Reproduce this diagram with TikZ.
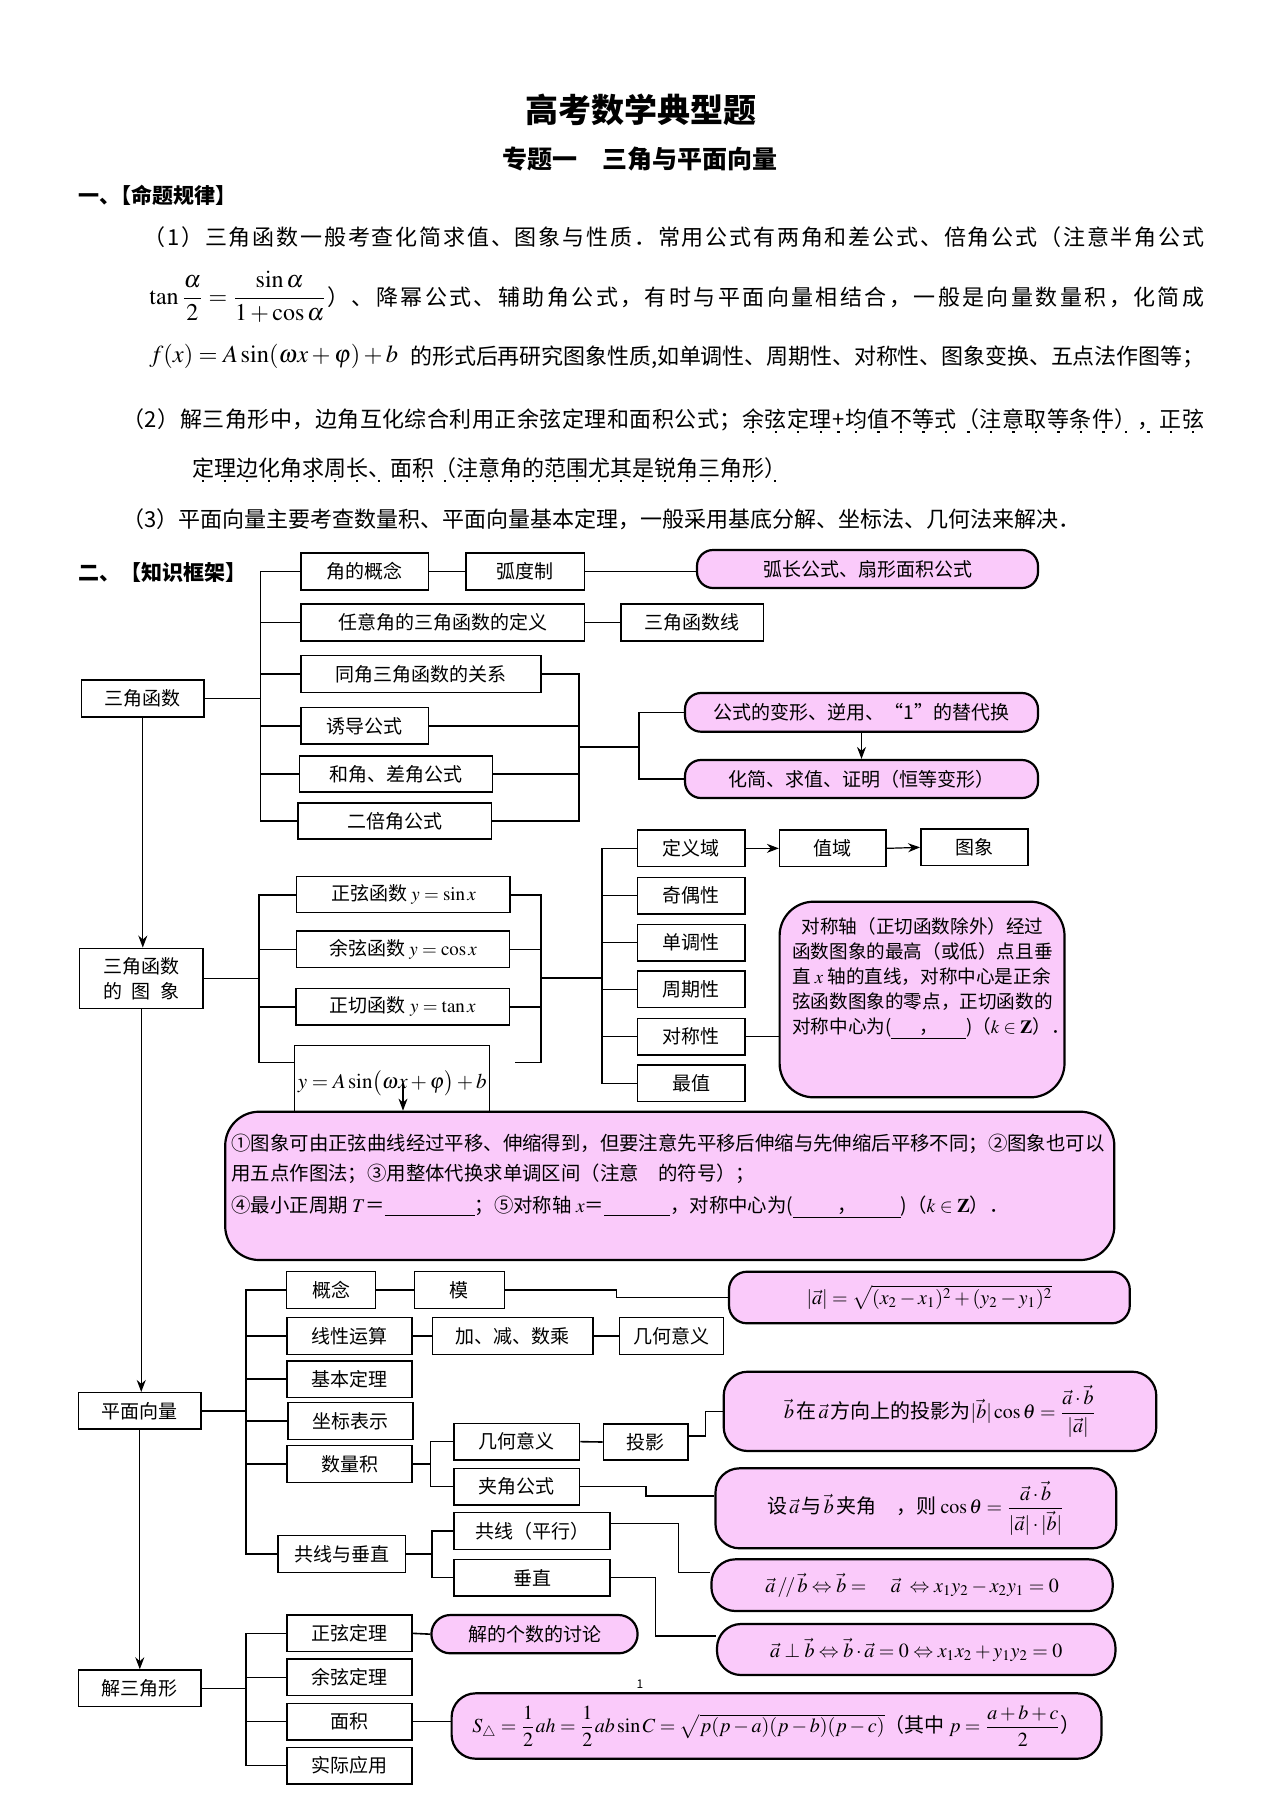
\documentclass[tikz,border=0pt]{standalone}
\usepackage{amsmath}
\usepackage{mathptmx}
\usepackage[no-math]{fontspec}
\setmainfont{Noto Sans CJK SC}
\usetikzlibrary{fit,arrows.meta}
\definecolor{pinkf}{RGB}{250,202,250}
\newcommand\zd[1]{\ooalign{#1\cr\hidewidth\raisebox{-0.25em}{\rule{1.1pt}{1.1pt}}\hidewidth\cr}}
\ExplSyntaxOn
\NewDocumentCommand\jline{mm}{\makebox[#1][s]{\tl_map_inline:nn{#2}{##1\hskip 0pt plus 1fil minus 1fil\scan_stop:}\unskip}}
\NewDocumentCommand\jlinez{mmm}{\makebox[#1][s]{\tl_map_inline:nn{#2}{##1\hskip 0pt plus 1fil minus 1fil\scan_stop:}\tl_map_inline:nn{#3}{\zd{##1}\hskip 0pt plus 1fil minus 1fil\scan_stop:}\unskip}}
\NewDocumentCommand\zdall{m}{\tl_map_inline:nn{#1}{\zd{##1}}}
\ExplSyntaxOff
\newcommand\bx[5][box]{\node[#1, fit={(#3) (#4)}] (#2) {};\node[#1, draw=none, fill=none] (#2t) at (#2.center) {#5};}
\tikzset{
 box/.style={draw, line width=0.75pt, inner sep=0pt, font=\fontsize{9.5pt}{12.5pt}\selectfont, align=center},
 pbox/.style={box, fill=pinkf, line width=1.1pt, rounded corners=8pt},
 pfbox/.style={pbox, rounded corners=12pt, font=\fontsize{10pt}{12pt}\selectfont},
 ln/.style={line width=0.8pt},
 arr/.style={line width=0.6pt, -{Stealth[length=6pt,width=4.5pt]}},
 ptxt/.style={inner sep=0pt, font=\fontsize{11pt}{13pt}\selectfont, anchor=base west},
}
\begin{document}
\begin{tikzpicture}[x=0.5pt,y=-0.5pt]
\useasboundingbox[fill=white] (0,0) rectangle (1280,1810);
% ---------- header ----------
\node[font=\fontsize{16.5pt}{18pt}\selectfont\bfseries] (title) at (640.8,110) {高考数学典型题};
\node[font=\fontsize{12.5pt}{14pt}\selectfont\bfseries] (sub) at (640.4,159) {专题一　三角与平面向量};
\node[ptxt, font=\fontsize{10.5pt}{12pt}\selectfont\bfseries] (h1) at (77.6,203) {一、\hspace{-0.45em}【命题规律】};
\node[ptxt] (l1) at (143,245) {\jline{530.5pt}{（1）三角函数一般考查化简求值、图象与性质．常用公式有两角和差公式、倍角公式（注意半角公式}};
\node[inner sep=0pt, anchor=west, font=\fontsize{12pt}{14pt}\selectfont] (l2a) at (149,297) {$\tan\dfrac{\alpha}{2}=\dfrac{\sin\alpha}{1+\cos\alpha}$};
\node[ptxt] (l2b) at (327,305.4) {\jline{438.5pt}{）、降幂公式、辅助角公式，有时与平面向量相结合，一般是向量数量积，化简成}};
\node[inner sep=0pt, anchor=west, font=\fontsize{12.2pt}{14pt}\selectfont] (l3a) at (149,356) {$f(x)=A\sin(\omega x+\varphi)+b$};
\node[ptxt] (l3b) at (410,364.4) {\jline{397pt}{的形式后再研究图象性质,如单调性、周期性、对称性、图象变换、五点法作图等；}};
\node[ptxt] (l4) at (122,427.4) {\jlinez{541pt}{（2）解三角形中，边角互化综合利用正余弦定理和面积公式；}{余弦定理+均值不等式（注意取等条件），正弦}};
\node[ptxt] (l5) at (191.8,476.4) {\zdall{定理边化角求周长、面积（注意角的范围尤其是锐角三角形）}};
\node[ptxt] (l6) at (122,527) {（3）平面向量主要考查数量积、平面向量基本定理，一般采用基底分解、坐标法、几何法来解决．};
\node[ptxt, font=\fontsize{10.5pt}{12pt}\selectfont\bfseries] (h2) at (77.6,580) {二、【知识框架】};
% ---------- group 1 ----------
\bx{sjhs}{81.6,680}{204,717}{三角函数}
\bx{jdgn}{301,553}{428.6,590}{角的概念}
\bx{hdz}{466,553}{584.5,590}{弧度制}
\bx[pbox]{hc}{697,550}{1038,588}{弧长公式、扇形面积公式}
\bx{ryj}{301,604}{584.5,641}{任意角的三角函数的定义}
\bx{sjhsx}{621,604}{763.7,641}{三角函数线}
\bx{tj}{301,655.7}{541,692.3}{同角三角函数的关系}
\bx{yd}{301,707.7}{428.6,744}{诱导公式}
\bx{hj}{299.6,756}{492.7,792}{和角、差角公式}
\bx{ebj}{298,803}{491.4,839}{二倍角公式}
\bx[pbox]{gs}{685,693}{1038,731.7}{公式的变形、逆用、“1”的替代换}
\bx[pbox]{hjq}{685,760}{1038,798}{化简、求值、证明（恒等变形）}
\coordinate (s1) at (260.4,0);
\coordinate (s2) at (578.8,0);
\coordinate (s3) at (638.8,746.7);
\draw[ln] (jdgn.west) -- (jdgn.west -| s1) -- (ebj.west -| s1) -- (ebj.west);
\foreach \n in {ryj,tj,yd,hj} \draw[ln] (\n.west -| s1) -- (\n.west);
\draw[ln] (sjhs.east) -- (sjhs.east -| s1);
\draw[ln] (jdgn.east) -- (hdz.west);
\draw[ln] (hdz.east) -- (hdz.east -| hc.west);
\draw[ln] (ryj.east) -- (sjhsx.west);
\draw[ln] (tj.east) -- (tj.east -| s2) -- (ebj.east -| s2) -- (ebj.east);
\foreach \n in {yd,hj} \draw[ln] (\n.east) -- (\n.east -| s2);
\draw[ln] (s2 |- s3) -- (s3);
\draw[ln] (gs.west) -- (gs.west -| s3) -- (hjq.west -| s3) -- (hjq.west);
\draw[arr] (gs.south) -- (hjq.north);
% ---------- group 2 ----------
\bx{tu}{79.6,948.3}{202.9,1008.3}{三角函数\\\makebox[4em][s]{的\hfil 图\hfil 象}}
\draw[arr] (sjhs.south) -- (sjhs.south |- tu.north);
\bx{zx}{296.7,876.7}{510.2,912.7}{正弦函数 $y=\sin x$}
\bx{yx}{296.7,931}{509.4,967.7}{余弦函数 $y=\cos x$}
\bx{zq}{296,988.7}{509.4,1025}{正切函数 $y=\tan x$}
\bx[box, font=\fontsize{10.5pt}{12pt}\selectfont]{asinb}{294.7,1045.7}{489.7,1120.3}{$y=A\sin\bigl(\omega x+\varphi\bigr)+b$}
\bx{dyy}{637.6,830}{744.9,866.7}{定义域}
\bx{zy}{779.6,830}{886,866.7}{值域}
\bx{tx}{920.8,829}{1027.8,865.7}{图象}
\bx{jo}{637.6,877.3}{744.9,914}{奇偶性}
\bx{dd}{637.6,924.3}{744.9,961}{单调性}
\bx{zqx}{637.6,971}{744.9,1007.7}{周期性}
\bx{dc}{637.6,1018.3}{744.9,1055}{对称性}
\bx{zz}{637.6,1065}{744.9,1101.7}{最值}
\bx[pbox, rounded corners=17pt]{callout}{779.6,901.7}{1064.5,1097.3}{}
\node[anchor=north west, inner sep=0pt, align=left, font=\fontsize{9.3pt}{12.5pt}\selectfont] (ct) at (791.8,917) {\hspace{4.7pt}对称轴（正切函数除外）经过\\函数图象的最高（或低）点且垂\\直 $x$ 轴的直线，对称中心是正余\\弦函数图象的零点，正切函数的\\对称中心为(\underline{\hspace{14pt}，\hspace{14pt}})（$k\in\mathbf{Z}$）．};
\coordinate (t1) at (259,1062.3);
\coordinate (t2) at (540.8,1062.3);
\coordinate (t2s) at (515,1062.3);
\coordinate (t3) at (602,977.7);
\draw[ln] (zx.west) -- (zx.west -| t1) -- (t1) -- (t1 -| asinb.west);
\foreach \n in {yx,zq} \draw[ln] (\n.west -| t1) -- (\n.west);
\draw[ln] (tu.east) -- (tu.east -| t1);
\draw[ln] (zx.east) -- (zx.east -| t2) -- (t2) -- (t2s);
\foreach \n in {yx,zq} \draw[ln] (\n.east) -- (\n.east -| t2);
\draw[ln] (t2 |- t3) -- (t3);
\draw[ln] (dyy.west) -- (dyy.west -| t3) -- (zz.west -| t3) -- (zz.west);
\foreach \n in {jo,dd,zqx,dc} \draw[ln] (\n.west -| t3) -- (\n.west);
\draw[arr] (dyy.east) -- (zy.west);
\draw[arr] (zy.east) -- (tx.west);
\draw[ln] (dc.east) -- (dc.east -| callout.west);
\bx[pbox, rounded corners=17pt]{bp}{225.2,1111.7}{1114.3,1260}{}
\coordinate (a0) at (403,1083);
\draw[arr] (a0) -- (a0 |- bp.north);
\begin{scope}[every node/.style={inner sep=0pt, anchor=base west, font=\fontsize{9.7pt}{12pt}\selectfont}]
\node (bt1) at (231,1150.8) {①图象可由正弦曲线经过平移、伸缩得到，但要注意先平移后伸缩与先伸缩后平移不同；②图象也可以};
\node (bt2) at (231,1180.8) {用五点作图法；③用整体代换求单调区间（注意\hspace{1em}的符号）；};
\node (bt3) at (231,1212.5) {④最小正周期 $T$＝\underline{\hspace{45pt}}；⑤对称轴 $x$＝\underline{\hspace{33pt}}，对称中心为(\underline{\hspace{22pt}，\hspace{22pt}})（$k\in\mathbf{Z}$）．};
\end{scope}
% ---------- group 3 ----------
\bx{pm}{78.4,1392.7}{201.2,1429}{平面向量}
\draw[arr] (tu.south) -- (tu.south |- pm.north);
\bx{gn}{286.5,1271.7}{375.5,1308.3}{概念}
\bx{mo}{414.3,1271.7}{504.5,1308.3}{模}
\bx[pfbox, rounded corners=9pt]{amod}{729,1271.7}{1129.8,1323.3}{$|\vec{a}|=\sqrt{(x_2-x_1)^2+(y_2-y_1)^2}$}
\bx{xx}{287,1317.7}{412.2,1354.3}{线性运算}
\bx{jj}{432.7,1317.7}{593,1354.3}{加、减、数乘}
\bx{jha}{619.6,1317.7}{723.7,1354.3}{几何意义}
\bx{jb}{287,1361}{412.2,1397.3}{基本定理}
\bx{zb}{287.8,1402.7}{413,1439.3}{坐标表示}
\bx{slj}{287,1445.7}{412.2,1482.3}{数量积}
\bx{jhb}{453.9,1423.3}{579.6,1460}{几何意义}
\bx{jjgs}{453.9,1468.3}{579.6,1505}{夹角公式}
\bx{ty}{603.3,1424}{688.2,1460}{投影}
\bx[pfbox]{typ}{723.7,1371.7}{1156.3,1451}{$\vec{b}\,$在$\,\vec{a}\,$方向上的投影为$|\vec{b}|\cos\theta=\dfrac{\vec{a}\cdot\vec{b}}{|\vec{a}|}$}
\bx[pfbox]{jjp}{715.5,1468.3}{1116.3,1548.3}{设$\,\vec{a}\,$与$\,\vec{b}\,$夹角\quad ，则 $\cos\theta=\dfrac{\vec{a}\cdot\vec{b}}{|\vec{a}|\cdot|\vec{b}|}$}
\bx{gxcz}{278,1535.7}{405.3,1572.3}{共线与垂直}
\bx{gx}{453.9,1512.3}{610.2,1549.3}{共线（平行）}
\bx{cz}{453.9,1559.3}{610.2,1596}{垂直}
\bx[pfbox]{pxp}{711.4,1559.3}{1112.7,1611}{$\vec{a}\,/\!/\,\vec{b}\Leftrightarrow\vec{b}=\quad\vec{a}\;\Leftrightarrow x_1y_2-x_2y_1=0$}
\bx[pfbox]{czp}{717,1624}{1115.5,1675}{$\vec{a}\perp\vec{b}\Leftrightarrow\vec{b}\cdot\vec{a}=0\Leftrightarrow x_1x_2+y_1y_2=0$}
\coordinate (u1) at (246,0);
\coordinate (u2) at (430.6,0);
\coordinate (u3) at (431.8,0);
\coordinate (m1) at (616.3,0);
\coordinate (m2) at (705.3,1436);
\coordinate (m3) at (646,1495.7);
\coordinate (m4) at (678.3,1523.3);
\coordinate (m4b) at (678.3,1572.3);
\coordinate (m5) at (655.3,1636);
\draw[ln] (gn.west) -- (gn.west -| u1) -- (gxcz.west -| u1) -- (gxcz.west);
\foreach \n in {xx,jb,zb,slj} \draw[ln] (\n.west -| u1) -- (\n.west);
\draw[ln] (pm.east) -- (pm.east -| u1);
\draw[ln] (gn.east) -- (mo.west);
\draw[ln] (mo.east) -- (mo.east -| m1) -- (m1 |- amod.west) -- (amod.west);
\draw[ln] (xx.east) -- (jj.west);
\draw[ln] (jj.east) -- (jha.west);
\draw[ln] (slj.east) -- (slj.east -| u2);
\draw[ln] (jhb.west) -- (jhb.west -| u2) -- (jjgs.west -| u2) -- (jjgs.west);
\draw[ln] (jhb.east) -- (ty.west);
\draw[ln] (ty.east |- m2) -- (m2) -- (m2 |- typ.west) -- (typ.west);
\draw[ln] (jjgs.east) -- (jjgs.east -| m3) -- (m3) -- (m3 -| jjp.west);
\draw[ln] (gxcz.east) -- (gxcz.east -| u3);
\draw[ln] (gx.west) -- (gx.west -| u3) -- (cz.west -| u3) -- (cz.west);
\draw[ln] (gx.east |- m4) -- (m4) -- (m4b) -- (m4b -| pxp.west);
\draw[ln] (cz.east) -- (cz.east -| m5) -- (m5) -- (m5 -| czp.west);
% ---------- group 4 ----------
\bx{sjx}{78.4,1670}{201.2,1706.7}{解三角形}
\draw[arr] (pm.south) -- (pm.south |- sjx.north);
\bx{zxdl}{287,1615}{412.2,1651.7}{正弦定理}
\bx{yxdl}{287,1659}{412.2,1695.7}{余弦定理}
\bx{mj}{287,1703.3}{412.2,1740}{面积}
\bx{sjyy}{287,1747.3}{412.2,1784}{实际应用}
\bx[pbox, rounded corners=9.5pt]{jdgs}{431.4,1615}{637.6,1653.3}{解的个数的讨论}
\bx[pfbox]{Sp}{451.6,1693.3}{1101.5,1758.7}{$S_{\triangle}=\dfrac12ah=\dfrac12ab\sin C=\sqrt{p(p-a)(p-b)(p-c)}$（其中 $p=\dfrac{a+b+c}{2}$）}
\node[inner sep=0pt, font=\fontsize{6pt}{7pt}\selectfont] (one) at (640,1684) {1};
\draw[ln] (zxdl.west) -- (zxdl.west -| u1) -- (sjyy.west -| u1) -- (sjyy.west);
\foreach \n in {yxdl,mj} \draw[ln] (\n.west -| u1) -- (\n.west);
\draw[ln] (sjx.east) -- (sjx.east -| u1);
\draw[ln] (zxdl.east) -- (jdgs.west);
\draw[ln] (mj.east) -- (mj.east -| Sp.west);
\end{tikzpicture}
\end{document}
